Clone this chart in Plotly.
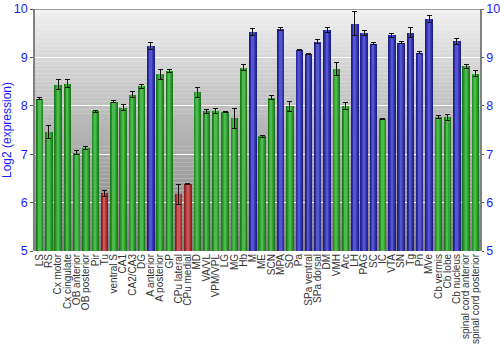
import plotly.graph_objects as go

regions = ["LS", "RS", "Cx motor", "Cx cingulate", "OB anterior", "OB posterior", "Pir", "Tu",
           "ventral S", "CA1", "CA2/CA3", "DG", "A anterior", "A posterior", "GP",
           "CPu lateral", "CPu medial", "MD", "VA/VL", "VPM/VPL", "LG", "MG", "Hb", "M",
           "ME", "SCN", "MPA", "SO", "Pa", "SPa ventral", "SPa dorsal", "DM", "VMH", "Arc",
           "LH", "PAG", "SC", "IC", "VTA", "SN", "Tg", "Pn", "MVe", "Cb vermis", "Cb lobe",
           "Cb nucleus", "spinal cord anterior", "spinal cord posterior"]

expression = [8.15, 7.46, 8.44, 8.46, 7.03, 7.12, 7.89, 6.19,
              8.08, 7.96, 8.23, 8.40, 9.23, 8.65, 8.72,
              6.17, 6.39, 8.28, 7.89, 7.89, 7.88, 7.74, 8.79, 9.53,
              7.37, 8.17, 9.59, 7.99, 9.16, 9.07, 9.32, 9.57, 8.76, 7.99,
              9.70, 9.50, 9.28, 7.72, 9.46, 9.30, 9.51, 9.10, 9.79, 7.76, 7.76,
              9.33, 8.82, 8.66]

error = [0.02, 0.13, 0.10, 0.08, 0.04, 0.03, 0.02, 0.07,
         0.02, 0.06, 0.06, 0.04, 0.07, 0.10, 0.03,
         0.20, 0.01, 0.10, 0.04, 0.05, 0.01, 0.20, 0.06, 0.07,
         0.02, 0.04, 0.03, 0.10, 0.01, 0.02, 0.04, 0.05, 0.14, 0.07,
         0.25, 0.05, 0.02, 0.01, 0.04, 0.02, 0.10, 0.02, 0.07, 0.03, 0.06,
         0.06, 0.04, 0.06]

# expression class of each region: g = moderate, r = low, b = high
level = ["g", "g", "g", "g", "g", "g", "g", "r",
         "g", "g", "g", "g", "b", "g", "g",
         "r", "r", "g", "g", "g", "g", "g", "g", "b",
         "g", "g", "b", "g", "b", "b", "b", "b", "g", "g",
         "b", "b", "b", "g", "b", "b", "b", "b", "b", "g", "g",
         "b", "g", "g"]

# cylinder shading: edge -> centre colour for each class
shades = {
    "g": ["#1d7a1d", "#259025", "#35a535", "#4cba4c"],
    "r": ["#8a1e1e", "#a42c2c", "#b94040", "#c95858"],
    "b": ["#20208a", "#2c2ca4", "#3c3cba", "#5555cc"],
}
widths = [0.8, 0.62, 0.42, 0.2]

fig = go.Figure()
for i, w in enumerate(widths):
    last = i == len(widths) - 1
    fig.add_trace(go.Bar(
        x=regions, y=[v - 5 for v in expression], base=5, width=w,
        marker=dict(color=[shades[c][i] for c in level], line=dict(width=0)),
        error_y=dict(type="data", array=error, color="#111111", thickness=1, width=2.5,
                     visible=last),
        showlegend=False, hoverinfo="x+y" if last else "skip",
    ))

# vertical grey gradient behind the plot
shapes = []
n = 60
for k in range(n):
    t = k / (n - 1)
    g = int(0xf2 - (0xf2 - 0x80) * t ** 0.9)
    y0 = 10 - 5 * k / n
    y1 = 10 - 5 * (k + 1) / n
    shapes.append(dict(type="rect", xref="paper", yref="y", x0=0, x1=1, y0=y1, y1=y0,
                       fillcolor=f"rgb({g},{g},{g})", line=dict(width=0), layer="below"))
shapes.append(dict(type="line", xref="paper", yref="y", x0=0, x1=1, y0=10, y1=10,
                   line=dict(color="#808080", width=1.5)))

axis_font = dict(family="Liberation Sans, Arial, sans-serif", size=12.5, color="#1a1aff")
fig.update_layout(
    width=500, height=350,
    margin=dict(l=35, r=20, t=9, b=99),
    paper_bgcolor="white", plot_bgcolor="rgba(0,0,0,0)",
    barmode="overlay", bargap=0,
    shapes=shapes,
    xaxis=dict(tickangle=-90, tickmode="array", tickvals=regions, ticktext=regions,
               range=[-0.5, len(regions) - 0.5], automargin=False,
               tickfont=dict(family="Liberation Sans, Arial, sans-serif",
                             size=10, color="#333333"),
               showgrid=False, showline=False, ticks="", ticklen=0),
    yaxis=dict(range=[5, 10], tickvals=[5, 6, 7, 8, 9, 10], tickfont=axis_font,
               showgrid=True, gridcolor="white", gridwidth=1.2, zeroline=False,
               showline=True, linecolor="#808080", linewidth=1.5, automargin=False,
               ticks="outside", ticklen=3, tickcolor="#555555",
               title=dict(text="Log2 (expression)", font=dict(
                   family="Liberation Sans, Arial, sans-serif", size=12, color="#1a1aff"),
                   standoff=6)),
    yaxis2=dict(range=[5, 10], tickvals=[5, 6, 7, 8, 9, 10], tickfont=axis_font,
                overlaying="y", side="right", showgrid=False, zeroline=False,
                showline=True, linecolor="#808080", linewidth=1.5, automargin=False,
                ticks="outside", ticklen=2, tickcolor="#555555"),
)
# invisible trace to carry the right-hand axis
fig.add_trace(go.Scatter(x=[regions[0]], y=[5], yaxis="y2", mode="markers",
                         marker=dict(opacity=0), showlegend=False, hoverinfo="skip"))

fig.write_html("out.html")
